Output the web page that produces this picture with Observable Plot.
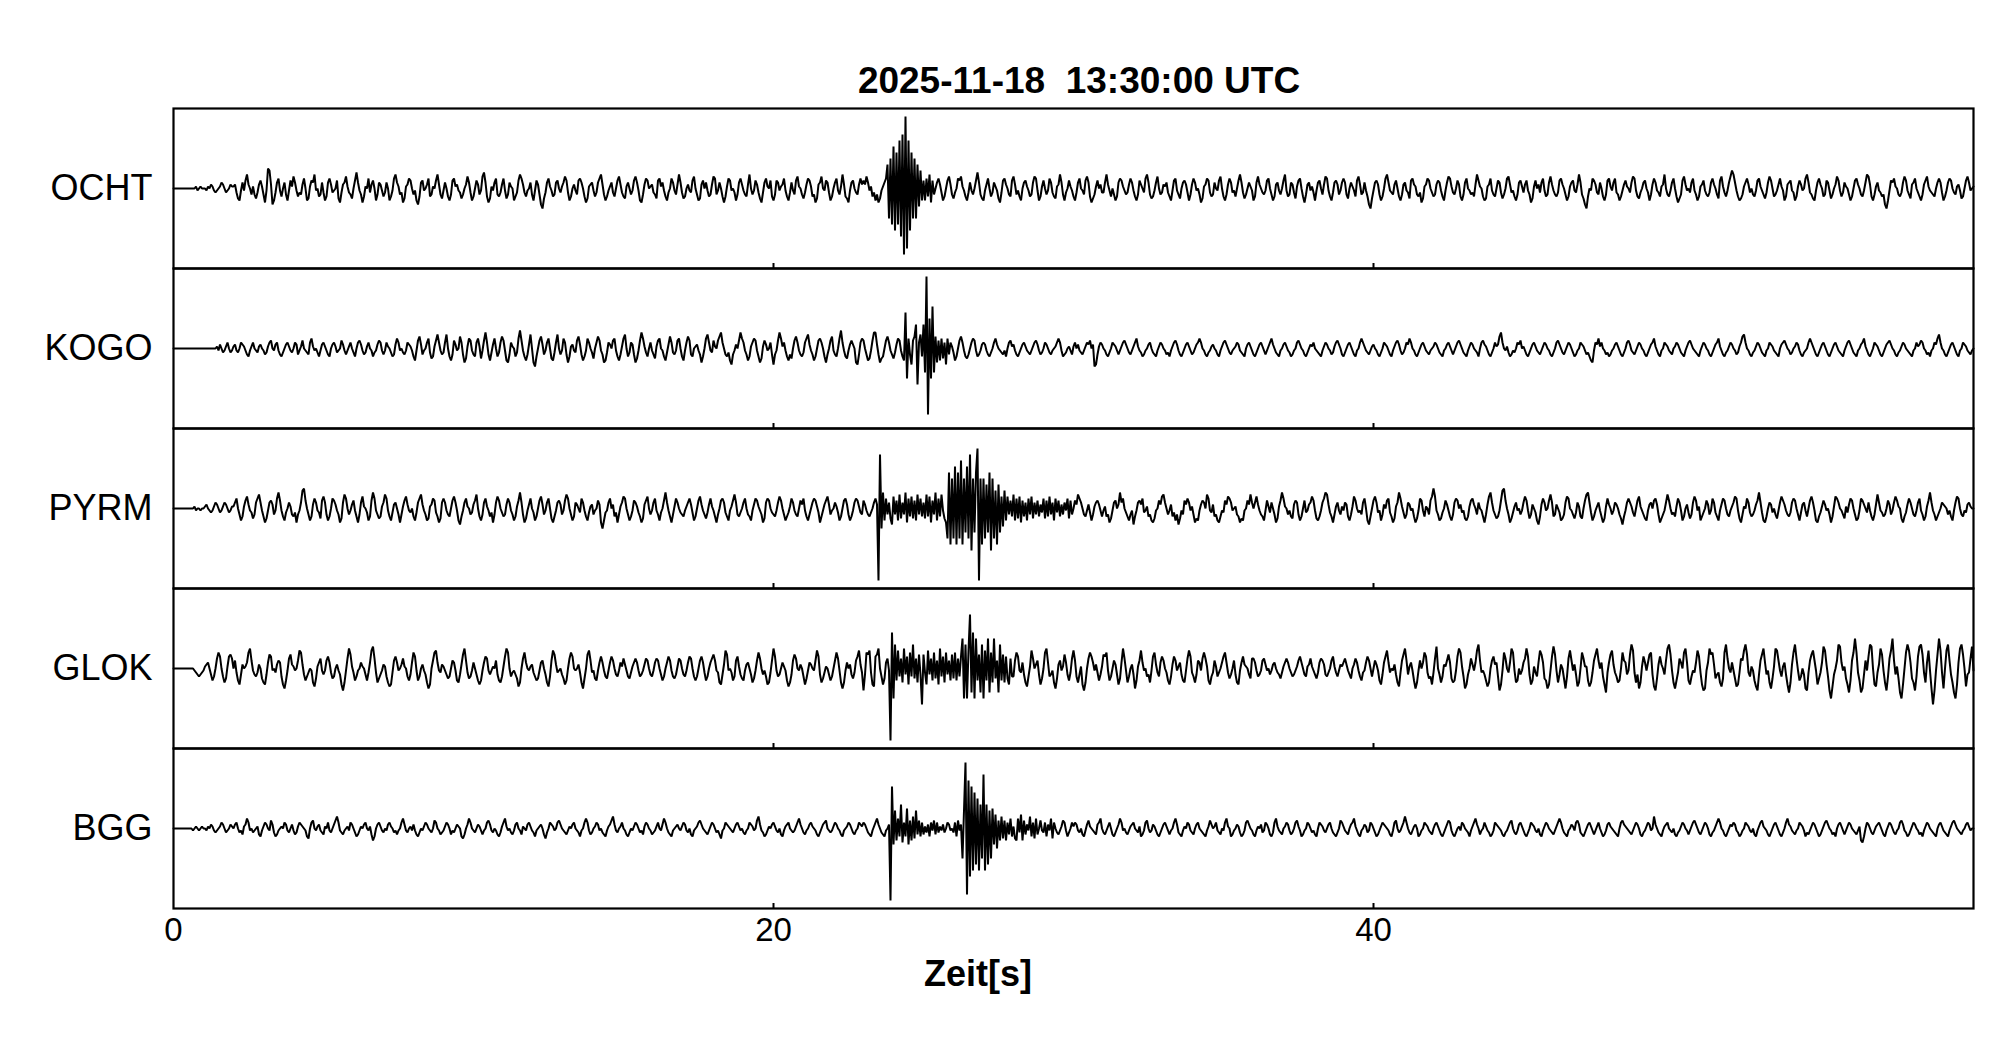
<!DOCTYPE html>
<html><head><meta charset="utf-8">
<script src="https://cdn.jsdelivr.net/npm/d3@7"></script>
<script src="https://cdn.jsdelivr.net/npm/@observablehq/plot@0.6"></script>
<style>
html,body{margin:0;padding:0;background:#fff;overflow:hidden;}
#wrap{position:relative;width:2005px;height:1041px;font-family:"Liberation Sans",Arial,Helvetica,sans-serif;color:#000;}
#title{position:absolute;left:1079px;top:62px;transform:translateX(-50%);font-weight:bold;font-size:37px;line-height:37px;white-space:pre;}
#xlabel{position:absolute;left:978px;top:956px;transform:translateX(-50%);font-weight:bold;font-size:36px;line-height:36px;white-space:pre;}
#chart{position:absolute;left:0;top:0;}
</style></head><body>
<div id="wrap"><div id="chart"></div><div id="title"></div><div id="xlabel"></div></div>
<script>
// ---- data: one string per second (20 samples/s); lowercase c -> (c-'n')*2, uppercase C -> (C-'N')*6 ----
const titleText = "2025-11-18  13:30:00 UTC";
const xLabel = "Zeit[s]";
const stations = ["OCHT", "KOGO", "PYRM", "GLOK", "BGG"];
const xTicks = [0, 20, 40];
const innerTicks = [20, 40];

const OCHT = [
"nnnnnnnnnnnnnnnomnon","nnmonpomlmnoqpnlmnpo","oplihmqmrupnkokilpro","kgmxwpfhlqsmjnqkhmro",
"tqmjlkpsnhiorqumnjkq","lhjqsplmnriglpqtolki","nrvqmkgjonslprnhkqpm","jlqnhjmsuqoklgiopsrn",
"kmhfjqrmnpsjkonrupki","mqnjhkrsopmliknptqlh","jnrpkmtvqjgiomqskjlp","smikqonhjlruspljmnqk",
"hmrpkfdilqsomjkqrnlo","qtrlhjnpmkrsqnjgiopq","mjlqsupkhjmoqljnrtpl","jioqnkmrtqmhgkpsrnop",
"lkirsoqmjhlnsqmkpuql","ijnpmlrtnkhiprnqmjkp","tskmqnjgjosrmnlhkqsp","mkjpunkmrpliglqsonrj",
"hkrqmopsmjhlqmkrtonk","ilpsrojkgipqtnmrqlhj","nqsmkoupjigmqrnlkpsp","rptqmojlhkgimoqsRISH",
"UGTHVFWCZDVGTISIRKQL","rhsjugrknqsplhjnrtpk","ilnsrtomjhlqmknrvqki","hmpsnjlqomiglrspnkjr",
"tpkmjhnqromjkqtsmhjo","rnkmsqljiopuqkhlnrom","jhlqsnmkrtqjgikornpl","lqupmjnkhjqsromklpsq",
"mjhkrpnlsuqkijmqtnkl","poqljhmrsmkinqrplhkp","sqmnkgiopsrljkqnmrtn","jhkpsqlmjnruqliknqom",
"hjqtpnlkmrsnkhjpqmkn","rumjkqpliorsnjgkpqmo","lhmqrnkptsmjhlqrpkmq","sqkinqomjrtpklqmjfdi",
"mqrpkhjnsuqmlkprnjhk","pqmlirspokjlgiopsrnl","jkprqmjhmqtsolknrpjh","kqsnmkljpuronjhiopsm",
"kjnrqliknstplmjhkqro","lprmkgiornplqsmjkqtp","mkjlrspnkhjoqrmlpuqk","ifdjnmsrplkqnjhkrsom",
"qslkhjmpronlqtsmjiln","qrnlhkpsqmljopunkjmq","snjgikrtpmnlqsmkhjop","rmkjlqspnkirtoljmqtw",
"uqmjhikoqsplnkjmrsom","kilqtrnjkmpsomhjpqrm","lhjorpmnsuqlkihmqspn","jkrqmiknptrmjlqonkhj",
"nrspnkjmqutpjhkoqmlj","kfdhmrqsonkjlqtrmkip","qsnljhkprtomlkjnqsql","hjmqsrnlkopmijnrtqmn","o"];

const KOGO = [
"nnnnnnnnnnnnnnnnnnnn","nnnnnnnnnompnlmoqnlm","opmlnqpomkjmoqnmlopn","mkloqrnmpqmkjlnpqoml",
"nqpkmornmlkqsomnljmp","qomkjnpqolmnrpmkmoqn","ljnqrpmkloqnmjlmprqm","kmqonljkpsqmnlkmqpom",
"jhmrtpkmnqslijoruqmk","lqunjhkrpmntqkgiosrm","kjqsoimrvqkhlpsnjlqt","rmhgkqonjlswrmjhkpun",
"gejnrtpkmqsnihlqunkm","sqkgjopmlrtpkhjmsqnl","inqtrmkghlqpnrsmjhko","sunjlqpkgimrvsoljnqm",
"kiorsnmjhlptqlkmrsnj","hmqtrkjnopmkgjnsuqml","ronrtvqnkjlhfkmpnrvs","qmkhjoqsrmjgiorpmnqk",
"fkmrvsoqmjhkinrtqmkj","lqsupmkhjnrsqnjgknrt","mkjnswqmjimprpngfkqs","rnkhimrvvpkgijnrtqmk",
"ilpsrmjhTIskfrtRHquj","RJZCSIUJtgrhsiqfskqo","lhjnrtqmjiknqsrmjkmp","qpmkjlnqspnmlkmjnqro",
"pmkjlnpqomlkmoqrpmkl","nqpnlkmnoqsqmjklnomk","oqnpmlkmoqprnpefkoqp","nmkjlnqpomkmoqrpnlkm",
"oqsomljkmnpqnlkjmoqp","nmkljmoqrpmkjlnpqomk","lnpqsqnmkjlmopnmkjmo","qrpnlkmnoqpmlkjnpqom",
"kjlnpqomkmoqspnlkjmn","pqomljkmnqrpnmkjlnpo","qnmlkjmoqpnmkloqrpnk","jlnpqomkjmnqsqomlkmo",
"pnmkjlnqpomkjmoqrpmk","lnqpsqnmkjlnpqomlkmn","oqpnlkjmnpqomkmoqrpn","lkjmoqpnmljnqrpomkjl",
"nqoptvqnmoljkmlnqprn","omkjlnpqomlkmoqpnmkj","lnqrpnlkmoqpnljkmnqp","omkljhgmqpsoqnmkljkm",
"npqomkjlnqrpmlkmoqpn","mkjlnpqsomkjmnqpomlk","noqpnlkjmoqrpnmlkjmo","qpnmkjlnpqsomkjlmoqp",
"nmkloqtuqnmkjlmoqpnl","kjmnqpomlkjnpqrpnmkl","noqpmkjlmnqsqomkjlnp","qomkjlnpqomlkjmoqrpn",
"lkjmnpqsomkjlnqpomkj","lnpqrpnmkjlmoqpnmlkj","mnqoprqnmkljmnqpsuqn","mkjlnpqomkjmnqpomlkm","n"];

const PYRM = [
"nnnnnnnnnnnnnnomnnmn","nopnmlmoqpnlmoqpnlmo","oqsnkhjortpmlikqsuqm","jgimqrpkmsvrmjhlnqok",
"jlgkmqwxrnkhjpsqmlir","tqkhjnsrpmkgiqusnkmp","rmjgkqtonlhjrvsmkijo","qusmjhlpqnkgkortpmln",
"jhlqsupmkhiopsrljgiq","sqmkjnrtqmhfjmqsonkl","prunjhkqsomjlgkqtrnl","jkpsqmkhjorvqkgimpsn",
"lhjnrtpkmqsnigjmqrpk","mrusnkhjqpnlsqmjhlop","kmnrpgdhlmqsnpjlgkoq","tsnkhjmrqoljgiprtnkm",
"qsmkhlnrvqmjgkosqnlk","jmoqsplhjnrtpmkilpso","mjgknrsqljhmoruqkjln","qsnkjhmpsromkgiqsrnl",
"kjmqtrnkhjlosqmkjnrp","smjhknqsrolgjmprtpkm","nqolhjnrspkhjmqsrolk","rpmkjlnqspBWdvhskqif",
"tkrhuiqkvgsjtirhuksj","qiujtgrkvhsjumigITHS","IUHTIVHSJUIWGSJTXBSH","SIRJTGSIQHRJPKQLtkrj",
"uhsitgrjqhsktiqkrjpl","sirjtkqhslrjpkqmsirk","nrpusqnkjmplhkoqrpmj","mojkgimqrnpvqsnljhkm",
"fjmqrpslmojkhgimnrpt","uqnkmpjlhkfimkrpsqmo","kgihmprqnusmlpjkhgjm","lrptsqmnokjgihmnrpuq",
"nqtpmkjhmrolqnkgiorv","sonkmjiprqkhjnrlmpqt","rmihjmqsvupljgkoqmko","mqpjhkotrnlmkqsnhfjn",
"rtqlmhkpnrsljgioqvso","likqpmnjgimsrmjonkrt","xtmkhilnrpmjhkqsrnpl","mihjorspnkqnmjgkptvq",
"mkijmrwxrnkgiloqmnkm","qtrmikpnlhfjpsqmnruq","jkpnlhikqtsnmkilqoji","nruvqlhjmoqmjgiospnk",
"mqpnkifjmqsqoljnrtom","kihmpqnrspkgikmqurnk","ljosqmhjnplikqtrmohj","lnrpkmsqljhmpsrnkjmo",
"qtsmigkonsqljkmprvql","hgjnqplnkimqtrpmkjlq","srnkhlpqmjnrtqmhgjlo","rpmnkgjotsqnmkiolpsr",
"nkhimsrpnlqmjhkpuqml","jknrpkmqtronigjlpsqn","kjmqsmkhjorvqmkhjlnq","ponkmjhmqtsnkjmlpqon","n"];

const GLOK = [
"nnnnnnnnnnnnnnmlkjkl","mopqnkhjnsvtnjgiotus","nrlhfkpnoqvxrmkjlpni","gfkqutmnlprqjfdhmsup",
"omnrwvpkhjlnmgeioqsm","kmrtqlijnpmkfcgmsxuo","lhjmnqonkhlqwyslgikm","pojgeflrtqmnpsonjhkq",
"vtmhjnpmkgdfnrvwqmlp","omkijnrqmhgkpuxrlijm","qnkhfhmqtsmkmonrkhgj","otxvnjlmkiegnsvqnmop",
"ljhimqrnkgejrwuplmnk","ifhnsvtnmnplgdinuwrl","mihmqtqmjimqtrnkjmqo","spmjiloqsqmjkmpsrnkj",
"mqsrnkhjnqtrmjikosrn","kjmqtsnjhjnrtqlhjnqs","urmlgfkpwumnlhjrtoki","hmpqnkgimrvsnkmjfglr",
"xtmjknqomhegkrusnmpn","jfimqpnmrwtkgilonkhj","nrvsmgdgmqnpkilrtwpl","ckvuwlfetuxnjfiqsmBT",
"IRhwjsgxktfvjRisgukH","ulfwkshvirfxjtgvkrhu","ivhsjtSIRIQWJTIShuJR","IQhSJvgSirJRhugtifsj",
"jrvtmlqkgejowsnprkfi","nvxqjkmgdiprmouqkhls","wrjgkofcgnsvtqmplhko","utvmhjnrpkfiqxsmgjnp",
"kdhorwqmnjkgmtvpljqt","rnlhfjptrmoqkhgmswtl","jgkrqmsvsohfjlrojlnq","tvqliknrkgfmqtponkis",
"sqmjkmrspmnkmpqnlkil","oqsqnljkmortqnkjopso","mkilqsrpkjlnrtoljmpo","qspmkinpsqmjhlmqtrnj",
"nrpmhfkqtwqlnmpkgelr","uxrkoqmhdgmrnqvtlijf","lsynkgjporuqighmtxvo","jdfknspmqwzrlmkhegnr",
"tpqjcfmvsnlqxvmghnkm","qsxtkfholjqwuqihdfmt","yumgkpnidjswrmpkegnv","sooheglruxrnqjfblquw",
"pljghnvrqkmuzwlgkdgo","tqmquvkeciptpnkrxzum","gdhlsqnvxqhfjmlqwtlf","cdmqxuvpiklgeivzsnlq",
"mieflsrwzuljomheckru","xqkmgdioxwrmjoqkfbgp","vzsmhjnkdclruwrmfilq","ywpjcIeknrzyqmoifbhr",
"vSvlhbdkrmtzynfelpxu","mgcjswSrkoibIfnvzwqi","gcjtyRulgqwmdHcmuSwl","dnwzrkgbIfqxzuneklsy","m"];

const BGG = [
"nnnnnnnnnnnnnmnonmno","nnmonpomlmnoqpnlmnpo","npqnlmkopsqmnlmnokjm","oqpnmrpljkmnonqpmlnp",
"mkloqponmjinqrnmopml","konqmlnprtqmlkmnomqp","nljkmonpqnmokhjnpqom","lnmpqonlmkmnqspmlnom",
"pmkjlnmoqpnmlnrqnmkl","moqpnkmlnponjiknpsqn","mlnpomkmnqrpmlnmkjlo","qsomnlkmpqnmkonmpqom",
"ljmnopnkilnqpomnqrpn","mlkmonpqnmljmnqsqmkl","noqpmnlkjmoprtpmlnoq","nmkjlnmoqpnlmkoqpnmk",
"lmoqnmpsqnlkjmnopnmo","qpmlnkjmnoqrpnmlkmoq","pnlmkimnqponmlnpqomn","lkmnqpomnrtpmljkmonp",
"qomlnkjmopqnmlmoqspn","lkmnpqonmkjlnpqrnmlm","oqpnmkjmnoqpnlkmnqpo","qpnlkjmoqspnlkjmnpBU",
"fwhsjRgqjxfrhtiwkrjq","kolpjqmrkqlomplnqpmn","lqjrmpIQYCVFUGTHSGRI","WGRHQIxfudrhtirhqksj",
"oihsluhrkpmtjqisknrm","lqjpmsiqnlkmorqmjlnq","oqpmlnkjmpronmlkpqsn","lkmoqnkjlnpsqmnlkmop",
"qnmlojkmqrnlmpomkjln","pqomkmnqsplkjmonqpml","knpqnmlkjmorpnoqmlkn","mqsonjkmnpoljkmqrpnm",
"kjmonplmqpnkjlqsomlk","noqpmklnqromjkmnqpnl","mkjnqpomlnpqnlkjlnrq","omlknpqsomkjmnpolmqp",
"nljkmoqponmkjmqrnlmo","qtqnlkmopnjkmnqpomlk","npqomkjlnprqmkjlnomq","pnmljmoqspnkmnqomljk",
"mqponmkjlmoqrnlkmpqo","mkjlnqpomlnkjmoqpnml","kmoqsqnlkjmnpomqrplk","jlnpqomkmoqnljkmpqon",
"mlkjnqrponmlkmoqpnkj","lmoqpmntpnlkjmopqnml","nkjlmoqpnmkmoqrpnlkm","oqpnkjlmoqsqnmkjlnpo",
"qpmljkmnqpomlnkjmoqr","onmkjlnpqomkjlnqspom","lkmnqpomjlkmoqpnljkm","oqrpnmkljnpqomkmoqpn",
"mlkmohgjnqpnlkmopqom","kjmoqpnlkmnqrpmljkmo","qpnmkljmoqpnmlkjnpqo","mlkjmoqrpnmlkmnpqomn","n"];

const traces = {OCHT, KOGO, PYRM, GLOK, BGG};

function decode(station, secs) {
  const out = [];
  secs.forEach((s, k) => {
    for (let i = 0; i < s.length; i++) {
      const c = s.charCodeAt(i);
      const v = c >= 97 ? (c - 110) * 2 : (c - 78) * 6;
      out.push({station, t: k + i / s.length, v});
    }
  });
  return out;
}
const data = stations.flatMap(s => decode(s, traces[s]));

document.getElementById("title").textContent = titleText;
document.getElementById("xlabel").textContent = xLabel;

const chart = Plot.plot({
  width: 2005,
  height: 1041,
  marginLeft: 173,
  marginRight: 32,
  marginTop: 108,
  marginBottom: 133,
  style: {fontFamily: '"Liberation Sans", Arial, Helvetica, sans-serif', color: "black", background: "white", overflow: "visible"},
  x: {domain: [0, 60]},
  y: {domain: [-80, 80], axis: null},
  fy: {domain: stations, padding: 0, axis: null},
  marks: [
    Plot.line(data, {x: "t", y: "v", fy: "station", z: "station", stroke: "black", strokeWidth: 2, strokeLinejoin: "miter"}),
    Plot.ruleX(innerTicks, {x: d => d, y1: -80, y2: -75, stroke: "black", strokeWidth: 2}),
    Plot.frame({stroke: "black", strokeWidth: 2.2}),
    Plot.axisFy({anchor: "left", tickSize: 0, tickPadding: 21, fontSize: 36, label: null}),
    Plot.axisX({ticks: xTicks, tickSize: 0, tickPadding: 9, fontSize: 33, label: null})
  ]
});
document.getElementById("chart").appendChild(chart);
</script>
</body></html>
